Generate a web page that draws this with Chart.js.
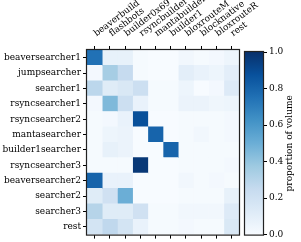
<!DOCTYPE html>
<html><head><meta charset="utf-8">
<script src="https://cdn.jsdelivr.net/npm/chart.js@4"></script>
<style>
html,body{margin:0;padding:0;background:#fff;}
#wrap{position:relative;width:301px;height:242px;overflow:hidden;}
#main{position:absolute;left:0;top:0;}
#cbar{position:absolute;left:240px;top:0;}
</style></head><body>
<div id="wrap">
<canvas id="main" width="301" height="242"></canvas>
<canvas id="cbar" width="61" height="242"></canvas>
</div>
<script>
// ---- data ----
const searchers = ["beaversearcher1","jumpsearcher","searcher1","rsyncsearcher1","rsyncsearcher2","mantasearcher","builder1searcher","rsyncsearcher3","beaversearcher2","searcher2","searcher3","rest"];
const builders = ["beaverbuild","flashbots","builder0x69","rsyncbuilder","mantabuilder","builder1","bloxrouteM","blocknative","bloxrouteR","rest"];
const shares = [
  [0.75,0.08,0.08,0.01,0.00,0.00,0.03,0.01,0.02,0.05],
  [0.02,0.35,0.25,0.01,0.00,0.00,0.10,0.07,0.05,0.10],
  [0.28,0.12,0.15,0.22,0.01,0.01,0.05,0.00,0.02,0.13],
  [0.02,0.45,0.22,0.07,0.01,0.01,0.06,0.06,0.04,0.05],
  [0.01,0.02,0.07,0.88,0.00,0.00,0.01,0.01,0.01,0.02],
  [0.01,0.05,0.06,0.00,0.80,0.00,0.01,0.03,0.01,0.02],
  [0.01,0.08,0.06,0.00,0.00,0.80,0.01,0.01,0.01,0.01],
  [0.01,0.01,0.01,0.97,0.00,0.00,0.01,0.01,0.01,0.02],
  [0.80,0.07,0.07,0.00,0.00,0.00,0.03,0.01,0.02,0.01],
  [0.12,0.20,0.50,0.00,0.00,0.00,0.01,0.01,0.01,0.08],
  [0.30,0.12,0.12,0.20,0.01,0.01,0.03,0.03,0.03,0.13],
  [0.18,0.27,0.18,0.07,0.01,0.01,0.02,0.01,0.01,0.15]
];
const cbarTicks = [0.0,0.2,0.4,0.6,0.8,1.0];

// ---- Blues colormap ----
const bluesStops = ["#f7fbff","#deebf7","#c6dbef","#9ecae1","#6baed6","#4292c6","#2171b5","#08519c","#08306b"];
function hex(h){return [parseInt(h.slice(1,3),16),parseInt(h.slice(3,5),16),parseInt(h.slice(5,7),16)];}
function blues(v){
  v=Math.max(0,Math.min(1,v));
  const p=v*(bluesStops.length-1), i=Math.min(Math.floor(p),bluesStops.length-2), t=p-i;
  const a=hex(bluesStops[i]), b=hex(bluesStops[i+1]);
  return `rgb(${a.map((x,k)=>Math.round(x+(b[k]-x)*t)).join(',')})`;
}

Chart.defaults.font.family = "'DejaVu Serif', serif";
Chart.defaults.font.size = 9;
Chart.defaults.color = '#000';

const frame = {
  id:'frame',
  afterDraw(chart){
    const a=chart.chartArea, c=chart.ctx;
    c.save(); c.strokeStyle='#222'; c.lineWidth=1.2;
    c.strokeRect(a.left-0.5,a.top-0.5,a.right-a.left+1,a.bottom-a.top+1);
    c.restore();
  }
};

const datasets = builders.map((b,c)=>({
  label:b,
  data: searchers.map(()=>[c-0.5,c+0.5]),
  backgroundColor: searchers.map((s,r)=>blues(shares[r][c])),
  borderWidth:0,
  grouped:false,
  barPercentage:1,
  categoryPercentage:1,
  xAxisID:'x', yAxisID:'y'
}));

new Chart(document.getElementById('main'),{
  type:'bar',
  data:{labels:searchers,datasets},
  options:{
    responsive:false, animation:false, indexAxis:'y',
    layout:{padding:{left:0,right:62,top:0,bottom:0}},
    plugins:{legend:{display:false},tooltip:{enabled:false}},
    scales:{
      x:{type:'linear',min:-0.5,max:9.5,display:false},
      y:{type:'category',position:'left',offset:true,
         grid:{offset:false,drawOnChartArea:false,tickLength:4,color:'#000',lineWidth:1},
         border:{display:false},
         ticks:{padding:2,autoSkip:false},
         afterFit:s=>{s.width=87;}},
      xt:{type:'category',labels:builders,position:'top',offset:true,
         grid:{offset:false,drawOnChartArea:false,tickLength:4,color:'#000',lineWidth:1},
         border:{display:false},
         ticks:{minRotation:37,maxRotation:37,autoSkip:false,padding:7,labelOffset:7},
         afterFit:s=>{s.height=50;}},
      xb:{type:'category',labels:builders,position:'bottom',offset:true,
         grid:{offset:false,drawOnChartArea:false,tickLength:4,color:'#000',lineWidth:1},
         border:{display:false},
         ticks:{display:false},
         afterFit:s=>{s.height=5;}}
    }
  },
  plugins:[frame]
});

const cbarLabel = {
  id:'cbarLabel',
  afterDraw(chart){
    const a=chart.chartArea, c=chart.ctx;
    c.save();
    c.translate(50,(a.top+a.bottom)/2);
    c.rotate(-Math.PI/2);
    c.font="9px 'DejaVu Serif', serif";
    c.fillStyle='#000'; c.textAlign='center'; c.textBaseline='middle';
    c.fillText('proportion of volume',0,0);
    c.restore();
  }
};

new Chart(document.getElementById('cbar'),{
  type:'bar',
  data:{labels:[''],datasets:[{
    data:[[0,1]],
    barPercentage:1,categoryPercentage:1,borderWidth:0,
    backgroundColor:(ctx)=>{
      const a=ctx.chart.chartArea;
      if(!a) return blues(0.5);
      const g=ctx.chart.ctx.createLinearGradient(0,a.bottom,0,a.top);
      bluesStops.forEach((s,i)=>g.addColorStop(i/(bluesStops.length-1),s));
      return g;
    }
  }]},
  options:{
    responsive:false, animation:false,
    layout:{padding:{left:5,right:0,top:52,bottom:6}},
    plugins:{legend:{display:false},tooltip:{enabled:false}},
    scales:{
      x:{display:false},
      y:{position:'right',min:0,max:1,
         afterBuildTicks:s=>{s.ticks=cbarTicks.map(v=>({value:v}));},
         ticks:{callback:v=>v.toFixed(1),padding:2},
         grid:{drawOnChartArea:false,tickLength:4,color:'#000'},
         border:{display:false},
         afterFit:s=>{s.width=38;}}
    }
  },
  plugins:[frame,cbarLabel]
});
</script>
</body></html>
